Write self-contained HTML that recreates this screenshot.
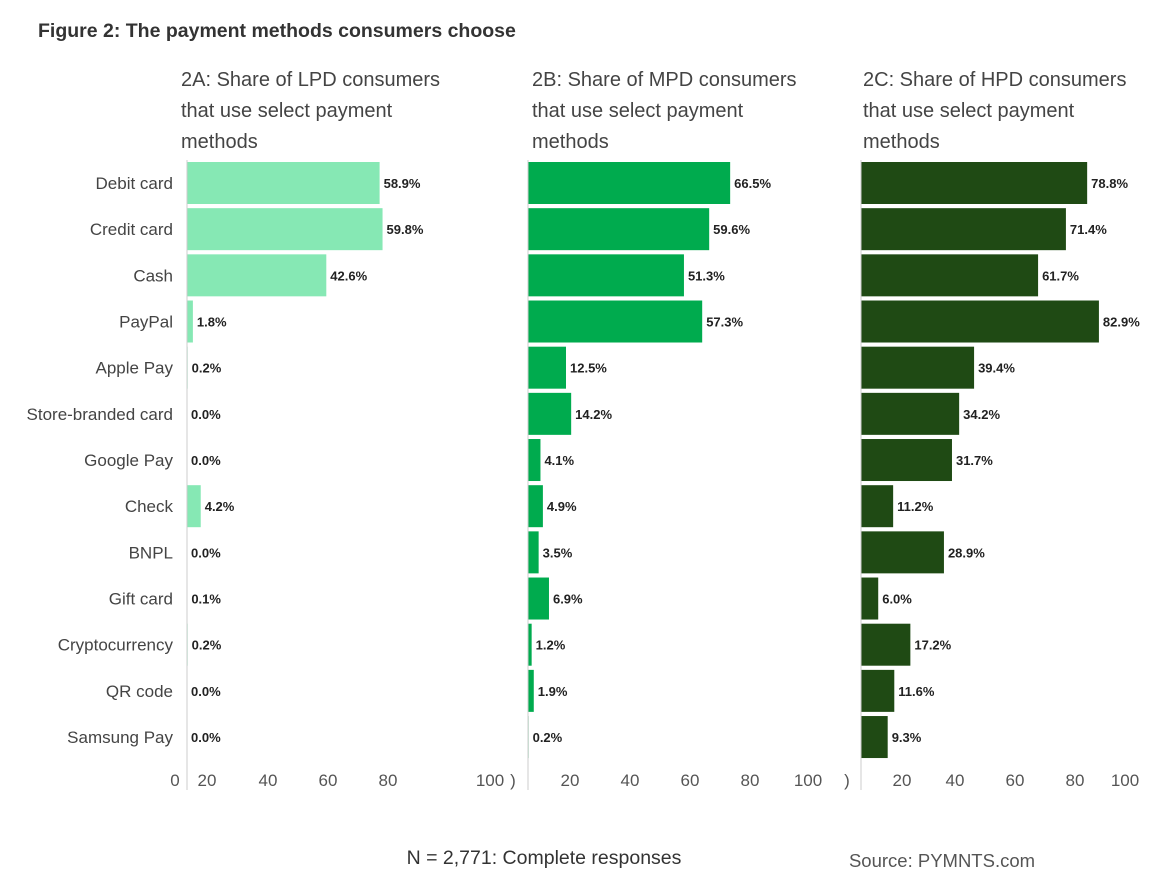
<!DOCTYPE html>
<html><head><style>
body{margin:0;background:#fff;width:1167px;height:881px;overflow:hidden;font-family:"Liberation Sans",sans-serif;color:#333}
svg text{font-family:"Liberation Sans",sans-serif}
</style></head><body>
<svg width="1167" height="881" xmlns="http://www.w3.org/2000/svg">
<text x="38" y="37" font-size="19.5" font-weight="bold" fill="#333">Figure 2: The payment methods consumers choose</text>
<g font-size="20" fill="#444">
<text x="181" y="86">2A: Share of LPD consumers</text><text x="181" y="117">that use select payment</text><text x="181" y="148">methods</text>
<text x="532" y="86">2B: Share of MPD consumers</text><text x="532" y="117">that use select payment</text><text x="532" y="148">methods</text>
<text x="863" y="86">2C: Share of HPD consumers</text><text x="863" y="117">that use select payment</text><text x="863" y="148">methods</text>
</g>
<g id="c"></g>
<g font-size="17" fill="#555">
<text x="175" y="786" text-anchor="middle">0</text><text x="207" y="786" text-anchor="middle">20</text><text x="268" y="786" text-anchor="middle">40</text><text x="328" y="786" text-anchor="middle">60</text><text x="388" y="786" text-anchor="middle">80</text><text x="490" y="786" text-anchor="middle">100</text>
<text x="513" y="786" text-anchor="middle">)</text><text x="570" y="786" text-anchor="middle">20</text><text x="630" y="786" text-anchor="middle">40</text><text x="690" y="786" text-anchor="middle">60</text><text x="750" y="786" text-anchor="middle">80</text><text x="808" y="786" text-anchor="middle">100</text>
<text x="847" y="786" text-anchor="middle">)</text><text x="902" y="786" text-anchor="middle">20</text><text x="955" y="786" text-anchor="middle">40</text><text x="1015" y="786" text-anchor="middle">60</text><text x="1075" y="786" text-anchor="middle">80</text><text x="1125" y="786" text-anchor="middle">100</text>
</g>
<text x="544" y="864" font-size="19.5" fill="#333" text-anchor="middle">N = 2,771: Complete responses</text>
<text x="942" y="867" font-size="18.5" fill="#555" text-anchor="middle">Source: PYMNTS.com</text>
</svg>
<script>
var cats=["Debit card","Credit card","Cash","PayPal","Apple Pay","Store-branded card","Google Pay","Check","BNPL","Gift card","Cryptocurrency","QR code","Samsung Pay"];
var A=[58.9,59.8,42.6,1.8,0.2,0,0,4.2,0,0.1,0.2,0,0];
var B=[66.5,59.6,51.3,57.3,12.5,14.2,4.1,4.9,3.5,6.9,1.2,1.9,0.2];
var C=[78.8,71.4,61.7,82.9,39.4,34.2,31.7,11.2,28.9,6.0,17.2,11.6,9.3];
var panels=[[187,3.27,A,"#86e8b4"],[528,3.04,B,"#00ab4e"],[861,2.87,C,"#1f4a14"]];
var s="";
cats.forEach(function(c,i){var cy=183+i*46.17;
s+='<text x="173" y="'+(cy+6)+'" font-size="17" fill="#444" text-anchor="end">'+c+'</text>';
panels.forEach(function(p){var w=p[2][i]*p[1];
s+='<rect x="'+p[0]+'" y="'+(cy-21)+'" width="'+Math.max(w,0)+'" height="42" fill="'+p[3]+'"/>';
s+='<text x="'+(p[0]+w+4)+'" y="'+(cy+5)+'" font-size="13" font-weight="bold" fill="#222">'+p[2][i].toFixed(1)+'%</text>';});});
panels.forEach(function(p){s+='<line x1="'+p[0]+'" y1="160" x2="'+p[0]+'" y2="790" stroke="#ccc"/>';});
document.getElementById("c").innerHTML=s;
</script>
</body></html>
